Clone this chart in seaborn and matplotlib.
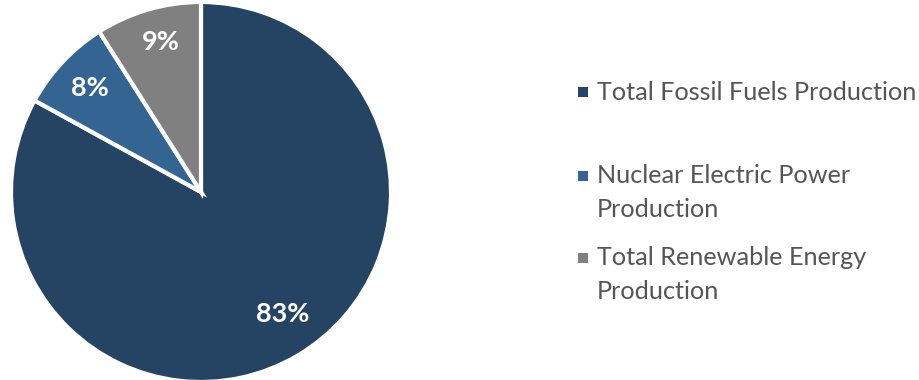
import matplotlib
matplotlib.use("Agg")
import matplotlib.pyplot as plt
import seaborn as sns

sns.set_theme(style="white")
plt.rcParams["font.family"] = ["Lato", "DejaVu Sans"]

categories = ["Total Fossil Fuels Production",
              "Nuclear Electric Power Production",
              "Total Renewable Energy Production"]
legend_labels = ["Total Fossil Fuels Production",
                 "Nuclear Electric Power\nProduction",
                 "Total Renewable Energy\nProduction"]
shares = [83, 8, 9]
colors = ["#254463", "#346491", "#808080"]

W, H = 920, 380
fig = plt.figure(figsize=(W / 100, H / 100), dpi=100)

cx, cy, r = 201, 192, 190
ax = fig.add_axes([(cx - r) / W, (H - cy - r) / H, 2 * r / W, 2 * r / H])
wedges, texts, autotexts = ax.pie(
    shares, colors=colors, startangle=90, counterclock=False,
    autopct=lambda p: f"{p:.0f}%", pctdistance=0.8,
    wedgeprops=dict(edgecolor="white", linewidth=3),
    textprops=dict(color="white", fontsize=19.5, fontweight="bold"),
)
# hand-placed percentage labels for the fossil and renewable slices
autotexts[0].set_position((0.43, -0.64))
autotexts[2].set_position((-0.21, 0.79))
ax.set_aspect("equal")
ax.set_xlim(-1, 1)
ax.set_ylim(-1, 1)

# legend entries: square swatch + label, positioned in pixel coords
rows = [(92, 92), (176, 192.5), (258, 274.5)]
for lab, col, (sq_y, txt_y) in zip(legend_labels, colors, rows):
    fig.patches.append(plt.Rectangle((578 / W, (H - sq_y - 5) / H), 10 / W, 10 / H,
                                     transform=fig.transFigure, facecolor=col,
                                     edgecolor="none"))
    fig.text(597 / W, (H - txt_y) / H, lab, ha="left", va="center",
             fontsize=18.2, color="#555555", linespacing=1.55)

fig.savefig("out.png", dpi=100)
